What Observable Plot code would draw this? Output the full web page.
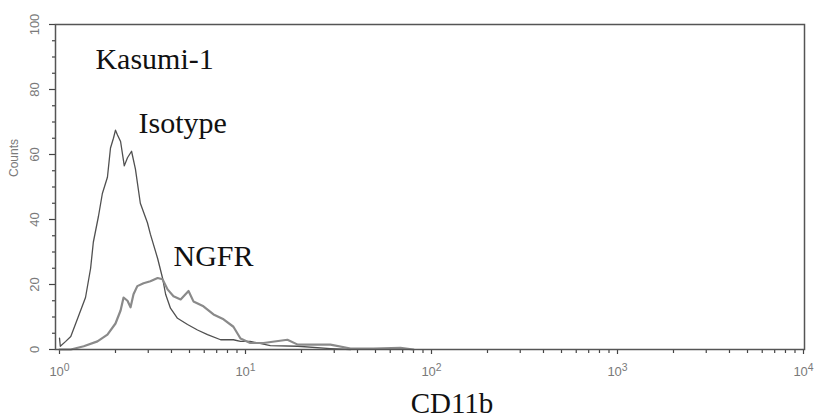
<!DOCTYPE html>
<html><head><meta charset="utf-8">
<script src="https://cdn.jsdelivr.net/npm/d3@7"></script>
<script src="https://cdn.jsdelivr.net/npm/@observablehq/plot@0.6"></script>
<style>body{margin:0;background:#fff}#chart svg{display:block}</style>
</head><body><div id="chart"></div>
<script>
// CD11b fluorescence intensity (x) and cell counts (y)
const isotypeX = [1.00,1.01,1.08,1.15,1.26,1.38,1.47,1.52,1.62,1.70,1.81,1.88,1.95,2.00,2.05,2.13,2.23,2.32,2.44,2.56,2.72,2.97,3.08,3.37,3.58,3.72,3.95,4.31,4.88,5.52,6.25,7.35,8.61,9.40,10.6,13.6,19.1,28.6,36.7];
const isotypeCount = [3.5,1,2.5,4,10,16,25,33,41,48,53,62,65,67.5,66,64,56.5,59,61,55.5,45,39,35.5,28,22,17,12.7,9.6,7.7,6,4.6,3,3,2.5,2.5,1.2,1,0.3,0];
const ngfrX = [1.00,1.15,1.35,1.60,1.81,2.00,2.13,2.21,2.32,2.41,2.50,2.62,2.83,3.08,3.37,3.58,3.81,4.10,4.48,4.94,5.25,5.94,6.73,7.62,8.61,9.40,10.6,12.5,16.8,19.1,28.6,36.7,48.8,68.1,80.0];
const ngfrCount = [0,0,1,2.5,4.6,8,12,16,15,13,17,19.5,20.4,21,22,21.6,18.5,16.4,15.4,18,14.8,13.3,10.8,9.3,7,3.4,2,2,3,1.5,1.5,0.3,0.3,0.5,0];

const xMajorTicks = [1, 10, 100, 1000, 10000];
const xTickExponents = ["0", "1", "2", "3", "4"];
const xMinorTicks = [2,3,4,5,6,7,8,9,20,30,40,50,60,70,80,90,200,300,400,500,600,700,800,900,2000,3000,4000,5000,6000,7000,8000,9000];
const yMajorTicks = [0, 20, 40, 60, 80, 100];
const yMinorTicks = [5,10,15,25,30,35,45,50,55,65,70,75,85,90,95];

const sampleLabel = "Kasumi-1";
const seriesLabels = [
  {name: "Isotype", x: 2.66, y: 66.7},
  {name: "NGFR", x: 4.10, y: 25.6}
];
const labelPos = [{name: sampleLabel, x: 1.56, y: 86.4}, ...seriesLabels];

const isotype = isotypeX.map((x, i) => ({x, y: isotypeCount[i]}));
const ngfr = ngfrX.map((x, i) => ({x, y: ngfrCount[i]}));

const axisColor = "#7a7a7a";
const serif = "'Liberation Serif', 'Times New Roman', serif";
const chart = Plot.plot({
  width: 814,
  height: 420,
  marginLeft: 55,
  marginRight: 10,
  marginTop: 24,
  marginBottom: 71,
  style: {background: "#fff", fontFamily: "'Liberation Sans', Arial, sans-serif"},
  x: {type: "log", domain: [1, 10000], insetLeft: 4, insetRight: 1},
  y: {domain: [0, 100]},
  marks: [
    Plot.axisX(xMinorTicks, {tickSize: 4, tickFormat: () => "", stroke: "#444", strokeWidth: 1.2, label: null}),
    Plot.axisX(xMajorTicks, {tickSize: 5, tickPadding: 12, tickFormat: d => "10^" + xTickExponents[xMajorTicks.indexOf(d)], fontSize: 13, fill: axisColor, stroke: "#444", strokeWidth: 1.2, label: null}),
    Plot.axisY(yMinorTicks, {tickSize: 3, tickFormat: () => "", stroke: "#444", strokeWidth: 1.2, label: null}),
    Plot.axisY(yMajorTicks, {tickSize: 6, tickPadding: 11, tickRotate: -90, fontSize: 13, fill: axisColor, stroke: "#444", strokeWidth: 1.2, label: null}),
    Plot.text(["Counts"], {frameAnchor: "left", rotate: -90, dx: -41, dy: -10, fill: axisColor, fontSize: 12}),
    Plot.line(isotype, {x: "x", y: "y", stroke: "#505050", strokeWidth: 1.3}),
    Plot.line(ngfr, {x: "x", y: "y", stroke: "#8a8a8a", strokeWidth: 2.2}),
    Plot.frame({stroke: "#555", strokeWidth: 1.5}),
    Plot.text(labelPos, {x: "x", y: "y", text: "name", textAnchor: "start", lineAnchor: "bottom", fontSize: 30, fontFamily: serif, fill: "#111"}),
    Plot.text(["CD11b"], {frameAnchor: "bottom", dx: 22, dy: 63, lineAnchor: "bottom", fontSize: 29, fontFamily: serif, fill: "#111"})
  ]
});
// render exponents of the x tick labels as superscripts
chart.querySelectorAll("text").forEach(t => {
  const m = /^10\^(\d)$/.exec(t.textContent);
  if (!m) return;
  t.textContent = "10";
  const sup = document.createElementNS("http://www.w3.org/2000/svg", "tspan");
  sup.setAttribute("dy", "-0.5em");
  sup.setAttribute("font-size", "0.8em");
  sup.textContent = m[1];
  t.appendChild(sup);
});
document.getElementById("chart").appendChild(chart);
</script>
</body></html>
